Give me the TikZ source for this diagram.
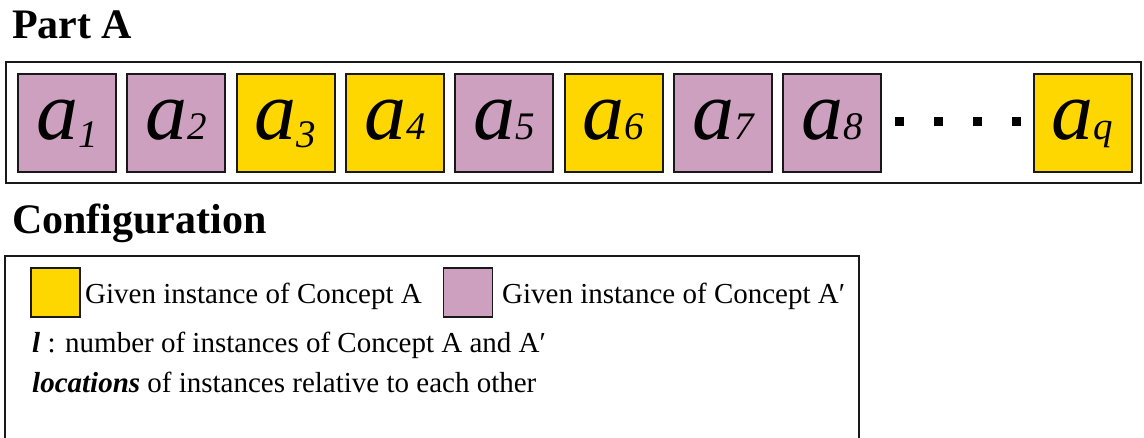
\documentclass[tikz,border=0pt]{standalone}
\usepackage{fontspec}
\setmainfont{Liberation Serif}
\definecolor{conA}{RGB}{255,215,0}
\definecolor{conB}{RGB}{205,160,191}
\newcommand{\bigAfont}{\fontsize{84}{90}\selectfont\itshape}
\newcommand{\subAfont}{\fontsize{39}{42}\selectfont\itshape}
\newcommand{\itemA}[2]{{\bigAfont a}{\subAfont #1}}
\newcommand{\itemAlow}[1]{{\bigAfont a}\raisebox{-8pt}{\subAfont #1}}
\begin{document}
\begin{tikzpicture}[x=1pt,y=-1pt,
  sqbox/.style={draw=black!90,line width=2pt,minimum width=98pt,minimum height=98pt,inner sep=0pt,outer sep=0pt},
  legbox/.style={draw=black!90,line width=1.8pt,minimum width=49pt,minimum height=49pt,inner sep=0pt},
  dotbox/.style={fill=black,minimum size=9pt,inner sep=0pt},
  title/.style={anchor=base west,inner sep=0pt,font=\fontsize{42}{46}\selectfont\bfseries},
  legtext/.style={anchor=base west,inner sep=0pt,font=\fontsize{29}{32}\selectfont},
  frame/.style={draw=black!90,line width=2.4pt}]
\useasboundingbox (0,0) rectangle (1144,437);
\clip (0,0) rectangle (1144,437);
\fill[white] (0,0) rectangle (1144,437);
% Part A
\node[title] (parta) at (12,38) {Part A};
\draw[frame] (6,62) rectangle (1141,183);
\foreach \i/\x/\c in {1/67/conB,2/176.3/conB,3/285.6/conA,4/394.9/conA,5/504.2/conB,6/613.5/conA,7/722.8/conB,8/832.1/conB}{
  \node[sqbox,fill=\c] (s\i) at (\x,122.5) {};
}
\node[sqbox,fill=conA] (sq) at (1082.5,122.5) {};
\foreach \i in {2,4,5,6,7,8}{
  \node[anchor=base,inner sep=0pt] (t\i) at ([yshift=-17pt]s\i.center) {\itemA{\i}{}};
}
\node[anchor=base,inner sep=0pt] (t1) at ([yshift=-17pt]s1.center) {\itemAlow{1}};
\node[anchor=base,inner sep=0pt] (t3) at ([yshift=-17pt]s3.center) {\itemAlow{3}};
\node[anchor=base,inner sep=0pt] (tq) at ([yshift=-17pt]sq.center) {\itemA{q}{}};
\foreach \k/\x in {1/899,2/938,3/977,4/1016}{
  \node[dotbox] (d\k) at (\x,121) {};
}
% Configuration
\node[title] (config) at (12,233) {Configuration};
\draw[frame] (5,460) -- (5,256) -- (859,256) -- (859,460);
\node[legbox,fill=conA] (lya) at (55.5,292.5) {};
\node[legtext] (lyat) at (85,303) {Given instance of Concept A};
\node[legbox,fill=conB] (lyb) at (468,292.5) {};
\node[legtext] (lybt) at (502,303) {Given instance of Concept A′};
\node[legtext] (ll) at (32,352) {\textbf{\textit{l}} : number of instances of Concept A and A′};
\node[legtext] (loc) at (32,392) {\textbf{\textit{locations}} of instances relative to each other};
\end{tikzpicture}
\end{document}
